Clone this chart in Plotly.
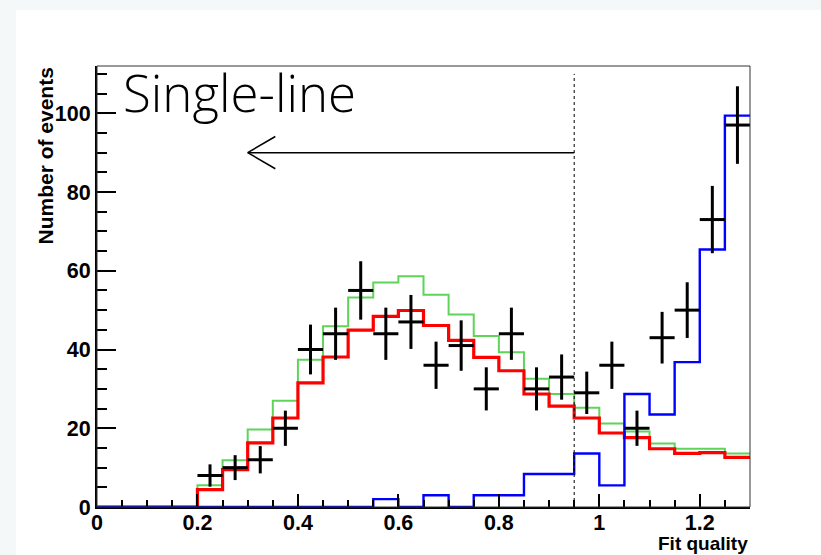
import numpy as np
import plotly.graph_objects as go

# ---------------- data ----------------
BIN_WIDTH = 0.05
bin_edges = [round(i * BIN_WIDTH, 2) for i in range(27)]  # 0 ... 1.3

# data points (bin centres from 0.225 to 1.275)
data_x = [0.225, 0.275, 0.325, 0.375, 0.425, 0.475, 0.525, 0.575, 0.625, 0.675, 0.725,
          0.775, 0.825, 0.875, 0.925, 0.975, 1.025, 1.075, 1.125, 1.175, 1.225, 1.275]
data_y = [8, 10, 12, 20, 40, 44, 55, 44, 47, 36, 41,
          30, 44, 30, 33, 29, 36, 20, 43, 50, 73, 97]

# red histogram (one value per bin, 26 bins)
red_vals = [0, 0, 0, 0, 4.4, 9.5, 16.3, 22.6, 31.5, 38.1, 44.9, 48.4, 49.9, 46.1,
            42.3, 38.0, 34.6, 28.7, 25.6, 22.6, 18.8, 17.6, 14.8, 13.6, 13.8, 12.6]
# green histogram
green_vals = [0, 0, 0, 0, 5.5, 11.9, 19.7, 27.0, 37.4, 45.9, 53.2, 57.0, 58.6, 53.9,
              48.9, 43.4, 39.3, 32.6, 28.7, 25.2, 21.2, 19.2, 16.1, 14.8, 14.8, 13.6]
# blue histogram
blue_vals = [0, 0, 0, 0, 0, 0, 0, 0, 0, 0, 0, 2.0, 0, 3.0,
             0, 3.0, 3.0, 8.4, 8.4, 13.6, 5.5, 28.7, 23.5, 36.8, 65.4, 99.4]

x_tick_vals = [0, 0.2, 0.4, 0.6, 0.8, 1.0, 1.2]
x_tick_text = ["0", "0.2", "0.4", "0.6", "0.8", "1", "1.2"]
y_tick_vals = [0, 20, 40, 60, 80, 100]
y_tick_text = ["0", "20", "40", "60", "80", "100"]

CUT_X = 0.95
ARROW_Y = 90
ARROW_TIP_X = 0.30
LABEL_TEXT = "Single-line"
X_TITLE = "Fit quality"
Y_TITLE = "Number of events"

# ---------------- figure ----------------
fig = go.Figure()

def step(vals, color, width):
    fig.add_trace(go.Scatter(
        x=bin_edges, y=list(vals) + [vals[-1]], mode="lines",
        line=dict(shape="hv", color=color, width=width),
        hoverinfo="skip", showlegend=False))

step(green_vals, "#5fd45a", 2)
step(red_vals, "#ff0000", 3.2)
step(blue_vals, "#0000ff", 2.4)

fig.add_trace(go.Scatter(
    x=data_x, y=data_y, mode="markers",
    marker=dict(size=1, color="black"),
    error_x=dict(type="constant", value=BIN_WIDTH / 2, thickness=3, width=0, color="black"),
    error_y=dict(type="data", array=list(np.sqrt(data_y)), thickness=3, width=0, color="black"),
    showlegend=False))

tick_font = dict(family="Liberation Sans, Arial, sans-serif", size=21.5, color="black", weight="bold")

fig.update_layout(
    width=821, height=555,
    margin=dict(l=97, r=71, t=66, b=48),
    paper_bgcolor="#f4f8f9",
    plot_bgcolor="white",
    showlegend=False,
    xaxis=dict(range=[0, 1.3], tickvals=x_tick_vals, ticktext=x_tick_text,
               ticks="inside", ticklen=13, tickwidth=1.5, tickcolor="black",
               minor=dict(ticks="inside", ticklen=7, dtick=0.05, tick0=0,
                          tickwidth=1.5, tickcolor="black"),
               showline=True, linecolor="black", linewidth=2, mirror=False,
               showgrid=False, zeroline=False, tickfont=tick_font,
               ticklabelstandoff=-5),
    yaxis=dict(range=[0, 112], tickvals=y_tick_vals, ticktext=y_tick_text,
               ticks="inside", ticklen=19, tickwidth=1.5, tickcolor="black",
               minor=dict(ticks="inside", ticklen=10, dtick=5, tick0=0,
                          tickwidth=1.5, tickcolor="black"),
               showline=True, linecolor="black", linewidth=2, mirror=False,
               showgrid=False, zeroline=False, tickfont=tick_font),
)

# white slide area (page background band at top/left)
PW, PH = 653.0, 441.0
def px_x(p): return (p - 97) / PW
def px_y(p): return (507 - p) / PH
fig.add_shape(type="rect", xref="paper", yref="paper",
              x0=px_x(16), x1=px_x(830), y0=px_y(565), y1=px_y(10),
              fillcolor="white", line=dict(width=0), layer="below")
# thin frame top / right
fig.add_shape(type="rect", xref="paper", yref="paper", x0=0, x1=1, y0=0, y1=1,
              line=dict(color="#333333", width=1), fillcolor="rgba(0,0,0,0)", layer="above")

# cut line
fig.add_shape(type="line", x0=CUT_X, x1=CUT_X, y0=0, y1=110,
              line=dict(color="black", width=1, dash="dot"))
# arrow
fig.add_shape(type="line", x0=CUT_X, x1=ARROW_TIP_X, y0=ARROW_Y, y1=ARROW_Y,
              line=dict(color="black", width=1.5))
fig.add_shape(type="line", x0=ARROW_TIP_X, x1=ARROW_TIP_X + 0.055, y0=ARROW_Y, y1=ARROW_Y + 4.1,
              line=dict(color="black", width=1.5))
fig.add_shape(type="line", x0=ARROW_TIP_X, x1=ARROW_TIP_X + 0.055, y0=ARROW_Y, y1=ARROW_Y - 4.1,
              line=dict(color="black", width=1.5))

fig.add_annotation(x=0.047, y=105.5, xref="x", yref="y", text=LABEL_TEXT, showarrow=False,
                   xanchor="left", yanchor="middle",
                   font=dict(family="Open Sans, sans-serif", size=51, color="black", weight=300))

fig.add_annotation(x=1, y=px_y(543), xref="paper", yref="paper", text=X_TITLE, showarrow=False,
                   xanchor="right", yanchor="middle",
                   font=dict(family="Liberation Sans, Arial, sans-serif", size=19, color="black", weight="bold"))
fig.add_annotation(x=px_x(45), y=1, xref="paper", yref="paper", text=Y_TITLE, showarrow=False,
                   textangle=-90, xanchor="center", yanchor="top",
                   font=dict(family="Liberation Sans, Arial, sans-serif", size=21, color="black", weight="bold"))

fig.write_html("out.html", config={"displayModeBar": False},
               post_script="document.body.style.margin='0';document.body.style.padding='0';")
